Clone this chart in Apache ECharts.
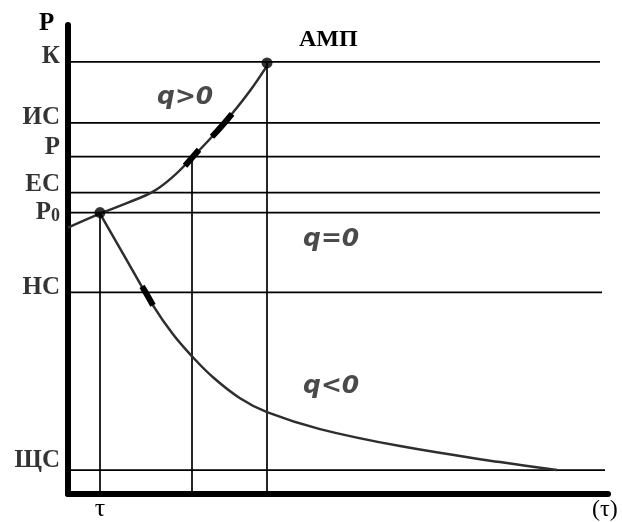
<!DOCTYPE html>
<html>
<head>
<meta charset="utf-8">
<script src="https://cdn.jsdelivr.net/npm/echarts@6/dist/echarts.min.js"></script>
<style>html,body{margin:0;padding:0;background:#fff;}#c{width:622px;height:522px;}</style>
</head>
<body>
<div id="c"></div>
<script>
// Levels on the vertical (P) axis
const levelNames = ['К', 'ИС', 'Р', 'ЕС', 'Р0', 'НС', 'ЩС'];
const levelValues = [433, 372, 338, 302, 282, 202, 24];
const levelEnds = [532, 532, 532, 532, 532, 534, 537];
// Vertical reference lines (time marks) and their top levels
const timeMarks = [32, 124, 199];
const timeTops = [282, 338, 433];
// q>0 curve
const growthX = [0, 32, 60, 85, 105, 124, 144, 164, 182, 199];
const growthY = [267, 281, 292, 303, 318, 337, 358, 381, 404, 429];
// q<0 curve
const decayX = [32, 55, 85, 105, 124, 145, 172, 199, 252, 332, 432, 489];
const decayY = [281, 241, 189, 160, 138, 117, 96, 82, 65, 48, 32, 24];
// emphasised (thick) pieces of the curves
const thickA = [[117, 329], [124, 337], [131, 345]];
const thickB = [[144, 358], [154, 369], [164, 381]];
const thickC = [[74, 208], [80, 198], [85, 189]];
// key points
const dotsX = [32, 199];
const dotsY = [282, 432];
// x axis tick label
const xTickValues = [32];
const xTickLabels = ['τ'];

// styles (not data)
const labelOffsets = [[0, -5], [0, -5], [0, -9], [0, -8], [0, 0], [0, -5], [0, -10]];
const serif = 'Liberation Serif';
const gridLine = { color: '#000', width: 1.7 };
const curveLine = { color: '#2e2e2e', width: 2.5 };

const series = [];
levelValues.forEach((v, i) => {
  series.push({ type: 'line', data: [[0, v], [levelEnds[i], v]], symbol: 'none', lineStyle: gridLine, silent: true, z: 2 });
});
timeMarks.forEach((x, i) => {
  series.push({ type: 'line', data: [[x, 0], [x, timeTops[i]]], symbol: 'none', lineStyle: gridLine, silent: true, z: 2 });
});
series.push({ type: 'line', data: growthX.map((x, i) => [x, growthY[i]]), symbol: 'none', smooth: 0.4, lineStyle: curveLine, z: 3 });
series.push({ type: 'line', data: decayX.map((x, i) => [x, decayY[i]]), symbol: 'none', smooth: 0.4, lineStyle: curveLine, z: 3 });
[thickA, thickB, thickC].forEach(seg => {
  series.push({ type: 'line', data: seg, symbol: 'none', smooth: true, lineStyle: { color: '#000', width: 6 }, z: 4 });
});
series.push({ type: 'scatter', data: dotsX.map((x, i) => [x, dotsY[i]]), symbolSize: 11, itemStyle: { color: '#000' }, z: 5 });
series.push({
  type: 'scatter',
  symbolSize: 0,
  z: 6,
  data: levelValues.map((v, i) => ({
    value: [0, v],
    label: {
      show: true,
      position: 'left',
      distance: 8,
      offset: labelOffsets[i],
      formatter: levelNames[i] === 'Р0' ? 'Р{s|0}' : levelNames[i],
      fontFamily: serif,
      fontWeight: 'bold',
      fontSize: 25,
      color: '#000',
      rich: { s: { fontFamily: serif, fontWeight: 'bold', fontSize: 18, color: '#000', verticalAlign: 'bottom', padding: [6, 0, 0, 0] } }
    }
  }))
});

const qStyle = { fontFamily: 'DejaVu Sans', fontWeight: 'bold', fontStyle: 'italic', fontSize: 25, fill: '#4a4a4a' };

const chart = echarts.init(document.getElementById('c'));
chart.setOption({
  animation: false,
  backgroundColor: '#fff',
  grid: { left: 68, right: 14, top: 25, bottom: 27, containLabel: false },
  xAxis: {
    type: 'value', min: 0, max: 540,
    axisLine: { show: true, lineStyle: { color: '#000', width: 6 } },
    axisTick: { show: false },
    splitLine: { show: false },
    axisLabel: {
      customValues: xTickValues,
      formatter: (v) => xTickLabels[xTickValues.indexOf(v)] || '',
      fontFamily: serif, fontSize: 26, color: '#000', margin: 2
    }
  },
  yAxis: {
    type: 'value', min: 0, max: 470,
    axisLine: { show: true, lineStyle: { color: '#000', width: 6 } },
    axisTick: { show: false },
    splitLine: { show: false },
    axisLabel: { show: false }
  },
  graphic: [
    { type: 'text', left: 39, top: 11, style: { text: 'Р', font: 'bold 25px "Liberation Serif"', fill: '#000' } },
    { type: 'text', left: 299, top: 28, style: { text: 'АМП', font: 'bold 24px "Liberation Serif"', fill: '#000' } },
    { type: 'text', left: 592, top: 498, style: { text: '(τ)', font: '24px "Liberation Serif"', fill: '#000' } },
    { type: 'text', left: 157, top: 85, style: Object.assign({ text: 'q>0' }, qStyle) },
    { type: 'text', left: 303, top: 227, style: Object.assign({ text: 'q=0' }, qStyle) },
    { type: 'text', left: 303, top: 374, style: Object.assign({ text: 'q<0' }, qStyle) }
  ],
  series: series
});
</script>
</body>
</html>
